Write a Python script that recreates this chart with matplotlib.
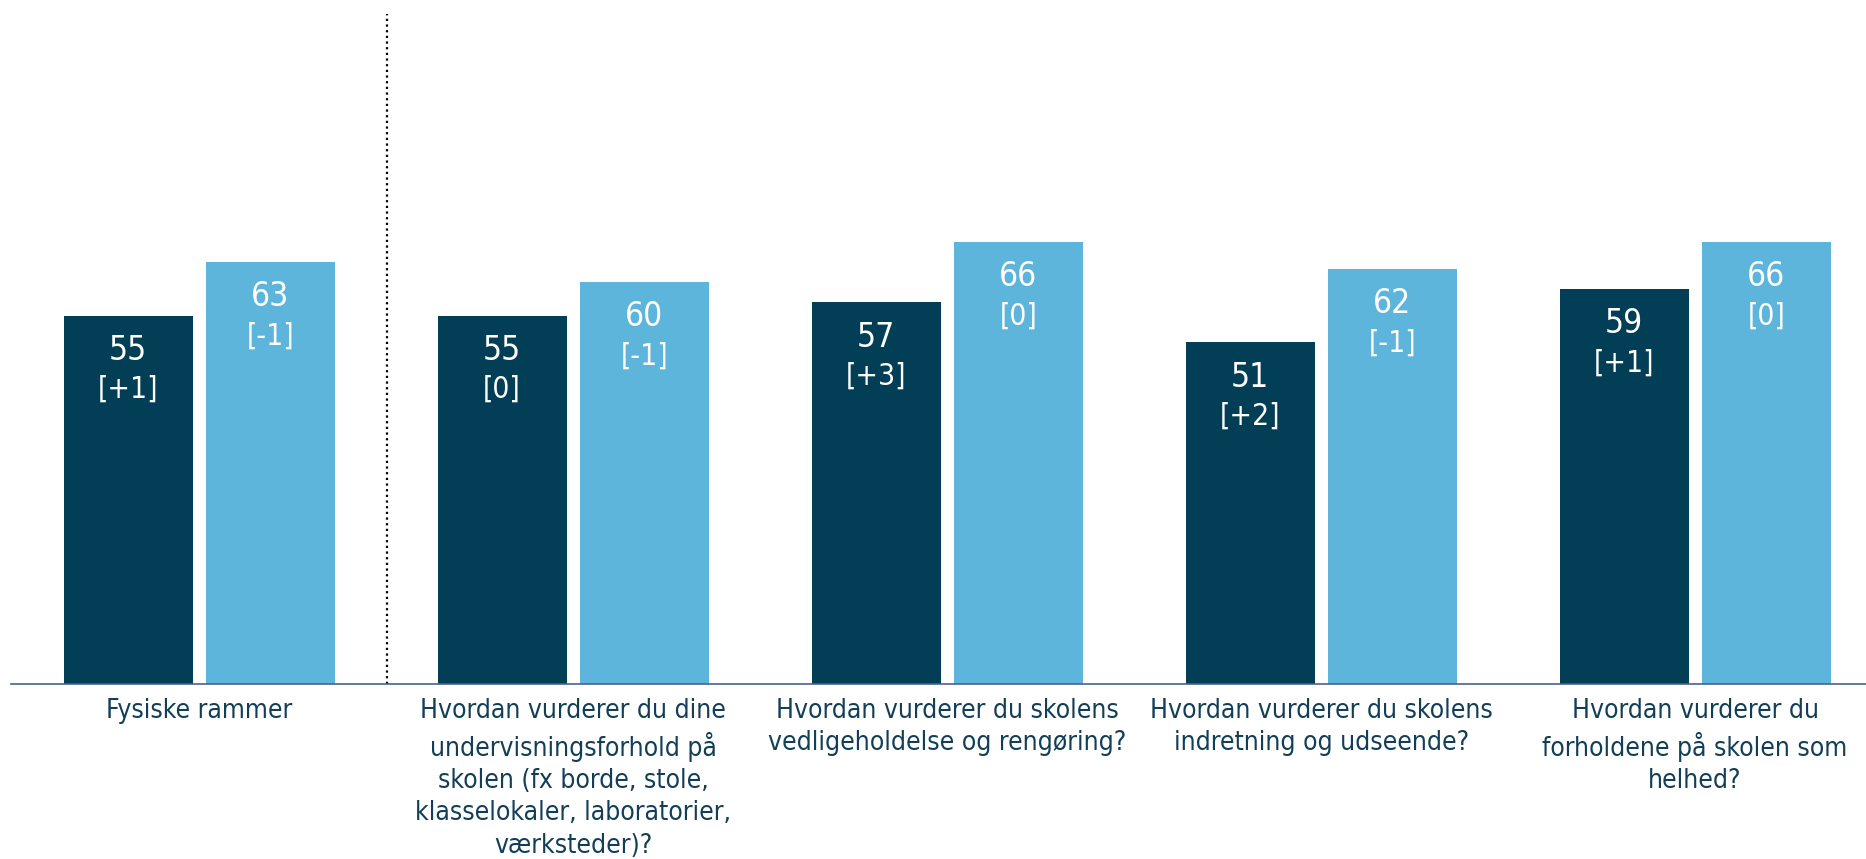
import matplotlib
matplotlib.use("Agg")
import matplotlib.pyplot as plt
import numpy as np

categories = [
    "Fysiske rammer",
    "Hvordan vurderer du dine\nundervisningsforhold på\nskolen (fx borde, stole,\nklasselokaler, laboratorier,\nværksteder)?",
    "Hvordan vurderer du skolens\nvedligeholdelse og rengøring?",
    "Hvordan vurderer du skolens\nindretning og udseende?",
    "Hvordan vurderer du\nforholdene på skolen som\nhelhed?",
]
dark_values = [55, 55, 57, 51, 59]
light_values = [63, 60, 66, 62, 66]
dark_changes = ["[+1]", "[0]", "[+3]", "[+2]", "[+1]"]
light_changes = ["[-1]", "[-1]", "[0]", "[-1]", "[0]"]

DARK = "#023F57"
LIGHT = "#5EB5DB"
TXT = "#123F57"
FONT = "DejaVu Sans"

W, H = 1866, 859
fig = plt.figure(figsize=(W / 100, H / 100), dpi=100)
ax = fig.add_axes([11 / W, 175 / H, (W - 11) / W, 670 / H])

x = np.arange(len(categories))
bw = 0.345
off = 0.19
ax.bar(x - off, dark_values, bw, color=DARK)
ax.bar(x + off, light_values, bw, color=LIGHT)

for xs, vals, chg in ((x - off, dark_values, dark_changes), (x + off, light_values, light_changes)):
    for xi, v, c in zip(xs, vals, chg):
        ax.annotate(str(v), (xi, v), xytext=(0, -32), textcoords="offset points",
                    ha="center", va="baseline", color="white", fontsize=24,
                    family=FONT, fontstretch="condensed")
        ax.annotate(c, (xi, v), xytext=(0, -59.5), textcoords="offset points",
                    ha="center", va="baseline", color="white", fontsize=21.5,
                    family=FONT, fontstretch="condensed")

ax.set_xlim(-0.503, 4.457)
ax.set_ylim(0, 100)
ax.axvline(0.503, ymin=0, ymax=1, color="black", lw=1.6, linestyle=(0, (1, 1.55)))

for s in ("top", "left", "right"):
    ax.spines[s].set_visible(False)
ax.spines["bottom"].set_color("#4A6485")
ax.spines["bottom"].set_linewidth(1.2)
ax.set_yticks([])
ax.set_xticks(x)
ax.set_xticklabels(categories, fontsize=19, color=TXT, family=FONT,
                   fontstretch="condensed", linespacing=1.32)
ax.tick_params(axis="x", length=0, pad=10)

fig.savefig("out.png", dpi=100)
